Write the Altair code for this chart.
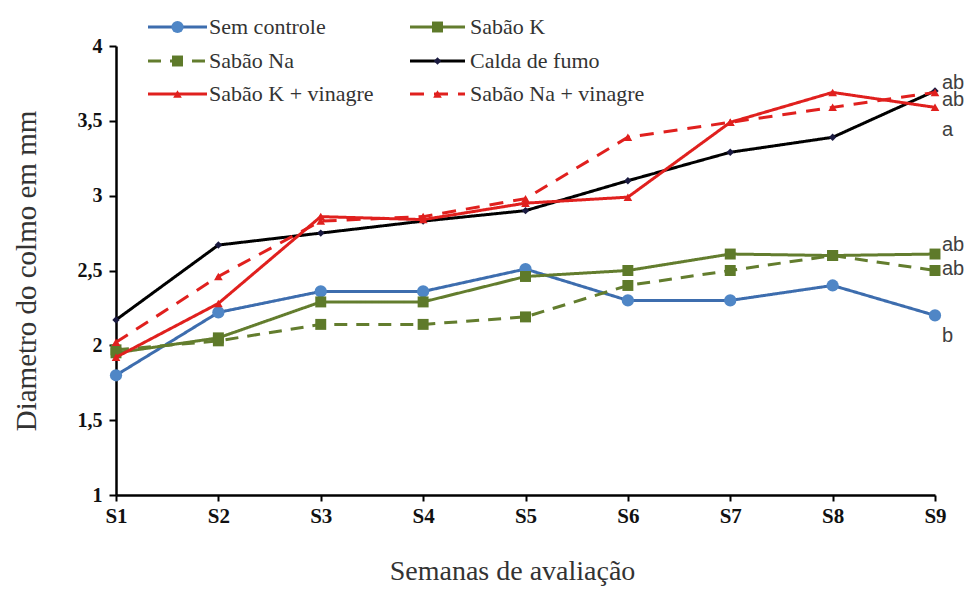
import altair as alt
import pandas as pd

# ---- data ----
weeks = ["S1", "S2", "S3", "S4", "S5", "S6", "S7", "S8", "S9"]
series_names = ["Sem controle", "Sabão K", "Sabão Na", "Calda de fumo",
                "Sabão K + vinagre", "Sabão Na + vinagre"]
sem_controle = [1.80, 2.22, 2.36, 2.36, 2.51, 2.30, 2.30, 2.40, 2.20]
sabao_k = [1.95, 2.05, 2.29, 2.29, 2.46, 2.50, 2.61, 2.60, 2.61]
sabao_na = [1.97, 2.03, 2.14, 2.14, 2.19, 2.40, 2.50, 2.60, 2.50]
calda_fumo = [2.17, 2.67, 2.75, 2.83, 2.90, 3.10, 3.29, 3.39, 3.70]
sabao_k_vinagre = [1.92, 2.28, 2.86, 2.84, 2.95, 2.99, 3.49, 3.69, 3.59]
sabao_na_vinagre = [2.02, 2.46, 2.83, 2.86, 2.98, 3.39, 3.49, 3.59, 3.69]
letters = ["ab", "ab", "a", "ab", "ab", "b"]
letter_y = [3.75, 3.64, 3.44, 2.67, 2.51, 2.06]

values = [sem_controle, sabao_k, sabao_na, calda_fumo, sabao_k_vinagre, sabao_na_vinagre]

rows = []
for name, vals in zip(series_names, values):
    for w, v in zip(weeks, vals):
        rows.append({"week": w, "value": v, "series": name})
df = pd.DataFrame(rows)
df_letters = pd.DataFrame({"week": ["S9"] * len(letters), "value": letter_y, "label": letters})

# ---- styles ----
styles = {
    "Sem controle": dict(color="#3D6DAE", mcolor="#4F86C6", shape="circle", size=150, dash=[1, 0]),
    "Sabão K": dict(color="#637D2E", mcolor="#5E7A2A", shape="square", size=120, dash=[1, 0]),
    "Sabão Na": dict(color="#637D2E", mcolor="#5E7A2A", shape="square", size=120, dash=[13, 9]),
    "Calda de fumo": dict(color="#000000", mcolor="#1A1A40", shape="diamond", size=55, dash=[1, 0]),
    "Sabão K + vinagre": dict(color="#E0201E", mcolor="#E0201E", shape="triangle-up", size=75, dash=[1, 0]),
    "Sabão Na + vinagre": dict(color="#E0201E", mcolor="#E0201E", shape="triangle-up", size=75, dash=[14, 10]),
}

W, H = 819, 449
SERIF = "Liberation Serif, Times New Roman, serif"

x_enc = alt.X(
    "week:N", sort=weeks,
    scale=alt.Scale(type="point", domain=weeks, padding=0),
    axis=alt.Axis(
        title="Semanas de avaliação", labelAngle=0, labelFont=SERIF, labelFontSize=21,
        labelFontWeight="bold", labelColor="#111111", labelPadding=4,
        tickSize=6, tickWidth=2, tickColor="#000000", domainWidth=2.5, domainColor="#000000",
        titleFont=SERIF, titleFontSize=28, titleFontWeight="normal", titleColor="#333333",
        titleX=396, titleY=76, titleAlign="center", titleBaseline="middle", grid=False,
    ),
)
y_enc = alt.Y(
    "value:Q",
    scale=alt.Scale(domain=[1, 4], nice=False, zero=False),
    axis=alt.Axis(
        title="Diametro do colmo em mm", values=[1, 1.5, 2, 2.5, 3, 3.5, 4],
        labelExpr="replace(toString(datum.value), '.', ',')",
        labelFont=SERIF, labelFontSize=20, labelFontWeight="bold", labelColor="#111111",
        labelPadding=7, tickSize=7, tickWidth=2, tickColor="#000000",
        domainWidth=2.5, domainColor="#000000",
        titleFont=SERIF, titleFontSize=29, titleFontWeight="normal", titleColor="#333333",
        titleX=-90, titleY=H / 2, titleAngle=-90, titleAlign="center", titleBaseline="middle",
        grid=False,
    ),
)

base = alt.Chart(df)
layers = []
for name in series_names:
    s = styles[name]
    sub = base.transform_filter(alt.datum.series == name)
    layers.append(
        sub.mark_line(color=s["color"], strokeWidth=3, strokeDash=s["dash"]).encode(x=x_enc, y=y_enc)
    )
    layers.append(
        sub.mark_point(shape=s["shape"], filled=True, size=s["size"], color=s["mcolor"], opacity=1)
        .encode(x=x_enc, y=y_enc)
    )

letters_layer = alt.Chart(df_letters).mark_text(
    align="left", baseline="middle", dx=7, font="Liberation Sans", fontSize=20, color="#404040"
).encode(x=x_enc, y=y_enc, text="label:N")
layers.append(letters_layer)

# ---- legend drawn as marks ----
one = pd.DataFrame({"k": [0]})
col_line = [(32, 91), (294, 349)]
col_text = [93, 354]
row_y = [-19, 15, 48]
for i, name in enumerate(series_names):
    s = styles[name]
    c, r = i % 2, i // 2
    x0, x1 = col_line[c]
    ly = row_y[r]
    layers.append(
        alt.Chart(one).mark_rule(color=s["color"], strokeWidth=3, strokeDash=s["dash"])
        .encode(x=alt.value(x0), x2=alt.value(x1), y=alt.value(ly))
    )
    layers.append(
        alt.Chart(one).mark_point(shape=s["shape"], filled=True, size=s["size"], color=s["mcolor"], opacity=1)
        .encode(x=alt.value((x0 + x1) / 2), y=alt.value(ly))
    )
    layers.append(
        alt.Chart(one).mark_text(align="left", baseline="middle", font=SERIF, fontSize=22, color="#333333")
        .encode(x=alt.value(col_text[c]), y=alt.value(ly), text=alt.value(name))
    )

chart = alt.layer(*layers).properties(
    width=W, height=H,
    autosize=alt.AutoSizeParams(type="none"),
    padding={"left": 108, "top": 38, "right": 30, "bottom": 96},
    background="white",
).configure_view(stroke=None)

chart.save("out.html", embed_options={"renderer": "svg", "actions": False})
